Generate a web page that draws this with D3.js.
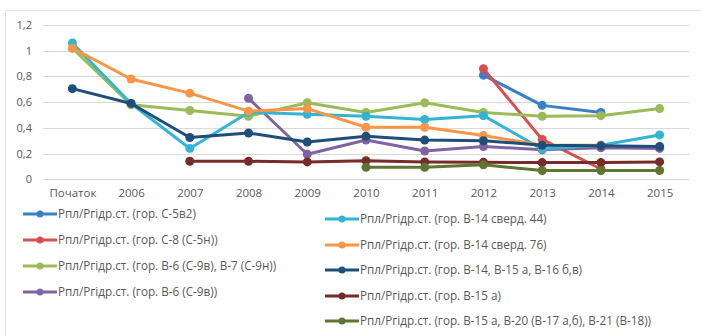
<!DOCTYPE html>
<html>
<head>
<meta charset="utf-8">
<script src="https://cdn.jsdelivr.net/npm/d3@7"></script>
<style>
  html, body { margin: 0; padding: 0; background: #fff; }
  svg { display: block; }
  text { font-family: "Open Sans", Lato, sans-serif; fill: #595959; }
</style>
</head>
<body>
<svg id="chart" width="701" height="336"></svg>
<script>
// Categories along the x axis
const categories = ["Початок", "2006", "2007", "2008", "2009", "2010", "2011", "2012", "2013", "2014", "2015"];

// Y axis ticks
const yTicks = [0, 0.2, 0.4, 0.6, 0.8, 1, 1.2];

// Series names
const seriesNames = [
  "Рпл/Ргідр.ст. (гор. С-5в2)",
  "Рпл/Ргідр.ст. (гор. С-8 (С-5н))",
  "Рпл/Ргідр.ст. (гор. В-6 (С-9в), В-7 (С-9н))",
  "Рпл/Ргідр.ст. (гор. В-6 (С-9в))",
  "Рпл/Ргідр.ст. (гор. В-14 сверд. 44)",
  "Рпл/Ргідр.ст. (гор. В-14 сверд. 76)",
  "Рпл/Ргідр.ст. (гор. В-14, В-15 а, В-16 б,в)",
  "Рпл/Ргідр.ст. (гор. В-15 а)",
  "Рпл/Ргідр.ст. (гор. В-15 а, В-20 (В-17 а,б), В-21 (В-18))"
];

// Series values per category (null = no measurement)
const sC5v2      = [null, null, null, null, null, null, null, 0.81, 0.575, 0.52, null];
const sC8        = [null, null, null, null, null, null, null, 0.86, 0.31, 0.08, null];
const sB6B7      = [1.02, 0.58, 0.535, 0.49, 0.595, 0.52, 0.595, 0.52, 0.49, 0.495, 0.55];
const sB6        = [null, null, null, 0.63, 0.195, 0.305, 0.22, 0.255, 0.23, 0.245, 0.24];
const sB14w44    = [1.06, 0.59, 0.24, 0.52, 0.505, 0.49, 0.465, 0.495, 0.235, 0.265, 0.345];
const sB14w76    = [1.02, 0.78, 0.67, 0.53, 0.55, 0.405, 0.405, 0.34, 0.265, 0.265, null];
const sB14B15B16 = [0.705, 0.59, 0.325, 0.36, 0.29, 0.335, 0.305, 0.30, 0.265, 0.26, 0.255];
const sB15a      = [null, null, 0.14, 0.14, 0.135, 0.145, 0.135, 0.132, 0.13, 0.13, 0.135];
const sB15B20B21 = [null, null, null, null, null, 0.093, 0.093, 0.113, 0.068, 0.068, 0.068];

const seriesValues = [sC5v2, sC8, sB6B7, sB6, sB14w44, sB14w76, sB14B15B16, sB15a, sB15B20B21];
const seriesColors = ["#3a7fc4", "#d6504f", "#9bbb59", "#8064a2", "#33b4d4", "#f79646", "#1f4e79", "#772c2a", "#5f7530"];

const svg = d3.select("#chart");

// Outer chart frame
svg.append("rect")
  .attr("x", 5.5).attr("y", 10.5)
  .attr("width", 700).attr("height", 340)
  .attr("fill", "none").attr("stroke", "#e3e3e3");

const x = d3.scalePoint().domain(categories).range([43, 689]).padding(0.5);
const y = d3.scaleLinear().domain([0, 1.2]).range([179.3, 25]);

// Horizontal gridlines
svg.append("g")
  .selectAll("line")
  .data(yTicks)
  .join("line")
  .attr("x1", 43).attr("x2", 689)
  .attr("y1", d => Math.round(y(d)) + 0.5)
  .attr("y2", d => Math.round(y(d)) + 0.5)
  .attr("stroke", "#d9d9d9").attr("stroke-width", 1);

// Y axis labels
const fmt = d => String(d).replace(".", ",");
const yAxis = d3.axisLeft(y).tickValues(yTicks).tickFormat(fmt).tickSize(0).tickPadding(0);
svg.append("g")
  .attr("transform", "translate(32,0)")
  .call(yAxis)
  .call(g => g.select(".domain").remove())
  .call(g => g.selectAll("text")
    .style("font-size", "11px")
    .attr("fill", "#595959")
    .style("font-family", "'Open Sans', sans-serif"));

// X axis labels
const xAxis = d3.axisBottom(x).tickSize(0).tickPadding(0);
svg.append("g")
  .attr("transform", "translate(0,189)")
  .call(xAxis)
  .call(g => g.select(".domain").remove())
  .call(g => g.selectAll("text")
    .style("font-size", "11.5px")
    .attr("fill", "#595959")
    .style("font-family", "'Open Sans', sans-serif"));

// Lines and markers
const line = d3.line()
  .defined(d => d.v !== null)
  .x(d => x(d.c))
  .y(d => y(d.v));

seriesValues.forEach((vals, i) => {
  const pts = vals.map((v, j) => ({ c: categories[j], v }));
  const g = svg.append("g");
  g.append("path")
    .datum(pts)
    .attr("d", line)
    .attr("fill", "none")
    .attr("stroke", seriesColors[i])
    .attr("stroke-width", 3)
    .attr("stroke-linejoin", "round");
  g.selectAll("circle")
    .data(pts.filter(d => d.v !== null))
    .join("circle")
    .attr("cx", d => x(d.c))
    .attr("cy", d => y(d.v))
    .attr("r", 4.5)
    .attr("fill", seriesColors[i]);
});

// Legend in two columns
const legendPos = [
  [23, 214], [23, 240], [23, 266], [23, 292],
  [325, 219], [325, 245], [325, 270], [325, 296], [325, 321]
];
const legend = svg.append("g")
  .selectAll("g")
  .data(seriesNames)
  .join("g")
  .attr("transform", (d, i) => `translate(${legendPos[i][0]},${legendPos[i][1]})`);
legend.append("line")
  .attr("x1", 0).attr("x2", 34).attr("y1", 0).attr("y2", 0)
  .attr("stroke", (d, i) => seriesColors[i]).attr("stroke-width", 3);
legend.append("circle")
  .attr("cx", 17).attr("cy", 0).attr("r", 3.5)
  .attr("fill", (d, i) => seriesColors[i]);
legend.append("text")
  .attr("x", 35).attr("y", 0).attr("dy", "0.35em")
  .style("font-size", "11.7px")
  .text(d => d);
</script>
</body>
</html>
